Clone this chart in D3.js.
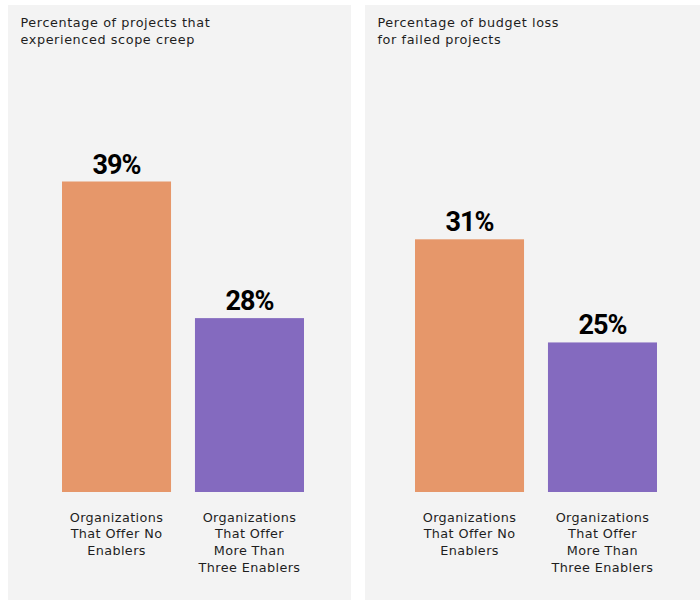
<!DOCTYPE html>
<html>
<head>
<meta charset="utf-8">
<script src="https://cdn.jsdelivr.net/npm/d3@7"></script>
<style>
  body { margin: 0; background: #ffffff; }
  svg { display: block; }
</style>
</head>
<body>
<svg id="chart" width="700" height="601"></svg>
<script>
// data
var categories = ["Organizations That Offer No Enablers", "Organizations That Offer More Than Three Enablers"];
var categoryLines = [
  ["Organizations", "That Offer No", "Enablers"],
  ["Organizations", "That Offer", "More Than", "Three Enablers"]
];
var panelTitles = [
  ["Percentage of projects that", "experienced scope creep"],
  ["Percentage of budget loss", "for failed projects"]
];
var scopeCreep = [39, 28];
var budgetLoss = [31, 25];
var barColors = ["#E6976A", "#846ABF"];

var W = 700, H = 601;
var svg = d3.select("#chart");

// layout for each panel (the reference bars are not drawn from zero)
var panels = [
  {x0: 8,   x1: 351, values: scopeCreep, base: 14.0, bx: [62, 304],  title: panelTitles[0]},
  {x0: 365, x1: 700, values: budgetLoss, base: 16.3, bx: [415, 657], title: panelTitles[1]}
];

var barBottom = 492;
var barTopMax = [181.5, 239.3];

panels.forEach(function(p, pi) {
  var g = svg.append("g").attr("class", "panel");

  g.append("rect")
    .attr("x", p.x0)
    .attr("y", 5)
    .attr("width", p.x1 - p.x0)
    .attr("height", 595)
    .attr("fill", "#F3F3F3");

  // title
  var title = g.append("text")
    .attr("x", p.x0 + 12.5)
    .attr("y", 27)
    .attr("fill", "#1e1e1e")
    .attr("font-family", "'DejaVu Sans', sans-serif")
    .attr("font-size", 12.8)
    .attr("letter-spacing", 0.6);
  title.selectAll("tspan")
    .data(p.title)
    .enter().append("tspan")
    .attr("x", p.x0 + 12.5)
    .attr("dy", function(d, i) { return i == 0 ? 0 : 17; })
    .text(function(d) { return d; });

  var x = d3.scaleBand()
    .domain(categories)
    .range(p.bx)
    .paddingInner(0.18)
    .paddingOuter(0);

  var maxV = d3.max(p.values);
  var y = d3.scaleLinear()
    .domain([p.base, maxV])
    .range([barBottom, barTopMax[pi]]);

  var rows = categories.map(function(c, i) { return {cat: c, v: p.values[i], i: i}; });

  g.selectAll("rect.bar")
    .data(rows)
    .enter().append("rect")
    .attr("class", "bar")
    .attr("x", function(d) { return x(d.cat); })
    .attr("y", function(d) { return y(d.v); })
    .attr("width", x.bandwidth())
    .attr("height", function(d) { return barBottom - y(d.v); })
    .attr("fill", function(d) { return barColors[d.i]; });

  g.selectAll("text.val")
    .data(rows)
    .enter().append("text")
    .attr("class", "val")
    .attr("x", function(d) { return x(d.cat) + x.bandwidth() / 2; })
    .attr("y", function(d) { return y(d.v) - 8; })
    .attr("text-anchor", "middle")
    .attr("fill", "#000")
    .attr("font-family", "Roboto, sans-serif")
    .attr("font-weight", "bold")
    .attr("font-size", 27)
    .attr("letter-spacing", -1)
    .text(function(d) { return d.v + "%"; });

  var labels = g.selectAll("text.cat")
    .data(rows)
    .enter().append("text")
    .attr("class", "cat")
    .attr("text-anchor", "middle")
    .attr("fill", "#1e1e1e")
    .attr("font-family", "'DejaVu Sans', sans-serif")
    .attr("font-size", 12.8)
    .attr("letter-spacing", 0.4)
    .attr("y", 521.5);
  labels.each(function(d) {
    var cx = x(d.cat) + x.bandwidth() / 2;
    d3.select(this).selectAll("tspan")
      .data(categoryLines[d.i])
      .enter().append("tspan")
      .attr("x", cx)
      .attr("dy", function(t, j) { return j == 0 ? 0 : 16.7; })
      .text(function(t) { return t; });
  });
});
</script>
</body>
</html>
